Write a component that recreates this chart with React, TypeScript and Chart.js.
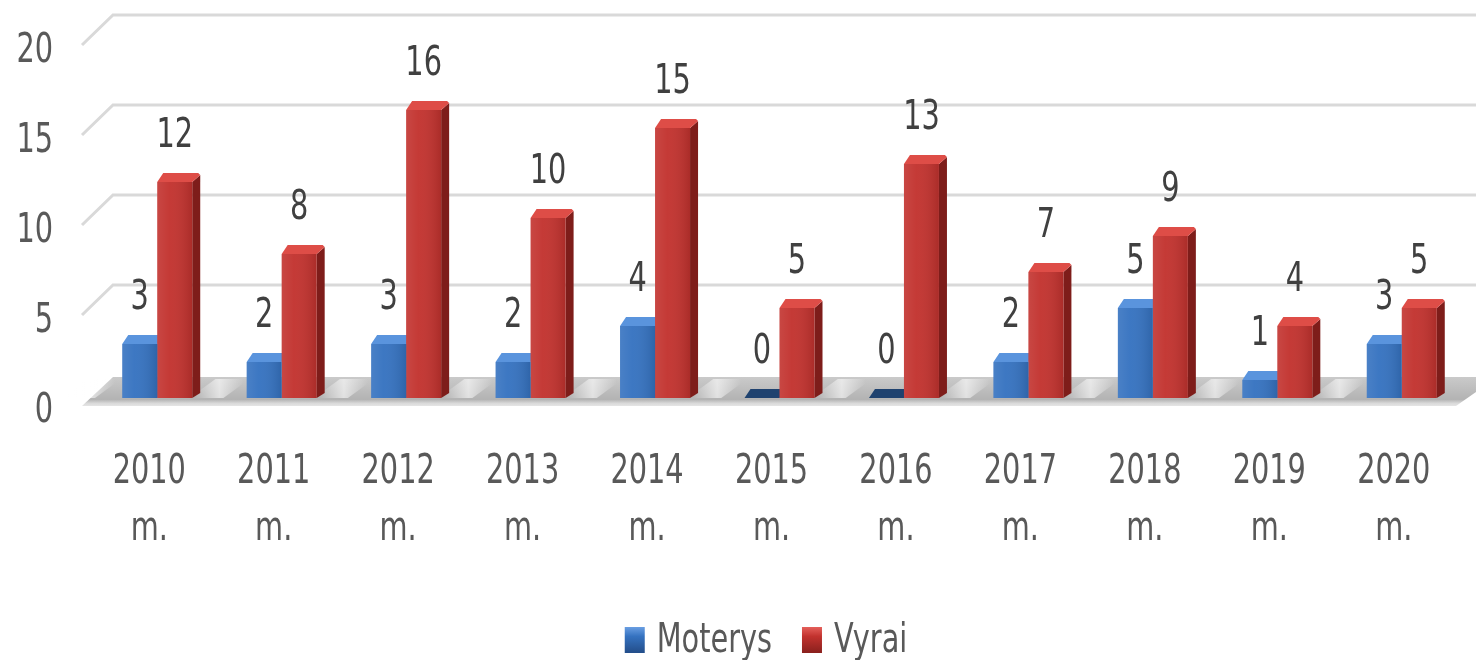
import { useEffect, useRef } from 'react';
import { Chart, registerables } from 'chart.js';
Chart.register(...registerables);

const categories = [
  ['2010', 'm.'], ['2011', 'm.'], ['2012', 'm.'], ['2013', 'm.'], ['2014', 'm.'], ['2015', 'm.'],
  ['2016', 'm.'], ['2017', 'm.'], ['2018', 'm.'], ['2019', 'm.'], ['2020', 'm.'],
];
const moterys = [3, 2, 3, 2, 4, 0, 0, 2, 5, 1, 3];
const vyrai = [12, 8, 16, 10, 15, 5, 13, 7, 9, 4, 5];
const yTicks = [0, 5, 10, 15, 20];
const seriesNames = ['Moterys', 'Vyrai'];

const FONT = '"DejaVu Sans Condensed", "DejaVu Sans", sans-serif';
const TEXT = '#595959';
const LABEL = '#404040';
const DX = 8;
const DY = 9;

const palette = [
  { front: '#3572c0', top: '#5a94dd', side: '#1f4f8f', zero: '#1f426f', light: '#6fa3e6', dark: '#244f8c' },
  { front: '#c2322e', top: '#de4d47', side: '#7e1d1a', zero: '#7e1d1a', light: '#e8645f', dark: '#8c211e' },
];

let SX = 0.8;
function calibrate(ctx: CanvasRenderingContext2D) {
  ctx.save();
  ctx.font = `40px ${FONT}`;
  const w = ctx.measureText('0000').width / 4;
  ctx.restore();
  SX = 18.3 / w;
}

function drawText(ctx: CanvasRenderingContext2D, text: string, x: number, y: number, align: CanvasTextAlign, color: string) {
  ctx.save();
  ctx.translate(x, y);
  ctx.scale(SX, 1);
  ctx.font = `40px ${FONT}`;
  ctx.textAlign = align;
  ctx.textBaseline = 'alphabetic';
  ctx.fillStyle = color;
  ctx.fillText(text, 0, 0);
  ctx.restore();
}

const threeD = {
  id: 'threeD',
  beforeDatasetsDraw(chart: any) {
    const ctx = chart.ctx;
    calibrate(ctx);
    const { left, right } = chart.chartArea;
    const ys = chart.scales.y;
    const xs = chart.scales.x;
    const W = chart.width;
    ctx.save();
    // back gridlines with 3D diagonal
    ctx.strokeStyle = '#d9d9d9';
    ctx.lineWidth = 3;
    for (const v of yTicks) {
      if (v === 0) continue;
      const py = ys.getPixelForValue(v);
      ctx.beginPath();
      ctx.moveTo(left - 13, py + 7);
      ctx.lineTo(left + 18, py - 23);
      ctx.lineTo(W, py - 23);
      ctx.stroke();
    }
    // floor
    const y0 = ys.getPixelForValue(0);
    const fb = y0 - 21;
    const ff = y0 + 8;
    const g = ctx.createLinearGradient(0, fb, 0, ff + 4);
    g.addColorStop(0, '#cacaca');
    g.addColorStop(0.68, '#b3b3b3');
    g.addColorStop(0.8, '#dadada');
    g.addColorStop(1, '#f6f6f6');
    ctx.fillStyle = g;
    ctx.beginPath();
    ctx.moveTo(left - 13, ff);
    ctx.lineTo(left + 18, fb);
    ctx.lineTo(W, fb);
    ctx.lineTo(W, ff - 14);
    ctx.lineTo(right - 8, ff);
    ctx.closePath();
    ctx.fill();
    // soft diagonal stripes between groups
    const n = categories.length;
    for (let i = 0; i < n; i++) {
      const gx = i === 0 ? left - 4 : (xs.getPixelForValue(i - 1) + xs.getPixelForValue(i)) / 2;
      const sg = ctx.createLinearGradient(gx - 24, 0, gx + 24, 0);
      sg.addColorStop(0, 'rgba(255,255,255,0)');
      sg.addColorStop(0.5, 'rgba(255,255,255,0.6)');
      sg.addColorStop(1, 'rgba(255,255,255,0)');
      ctx.fillStyle = sg;
      ctx.beginPath();
      ctx.moveTo(gx - 30, y0);
      ctx.lineTo(gx + 4, y0);
      ctx.lineTo(gx + 30, fb + 2);
      ctx.lineTo(gx - 4, fb + 2);
      ctx.closePath();
      ctx.fill();
    }
    // bar caps and sides
    chart.data.datasets.forEach((ds: any, di: number) => {
      const meta = chart.getDatasetMeta(di);
      const c = palette[di];
      meta.data.forEach((bar: any, j: number) => {
        const { x, y, base, width } = bar.getProps(['x', 'y', 'base', 'width'], true);
        const x0 = x - width / 2;
        const x1 = x + width / 2;
        const v = ds.data[j];
        if (v > 0) {
          ctx.fillStyle = c.side;
          ctx.beginPath();
          ctx.moveTo(x1, y);
          ctx.lineTo(x1 + DX, y - DY + 2);
          ctx.lineTo(x1 + DX, base - DY + 4);
          ctx.lineTo(x1, base);
          ctx.closePath();
          ctx.fill();
        }
        ctx.fillStyle = v > 0 ? c.top : c.zero;
        ctx.beginPath();
        ctx.moveTo(x0, y);
        ctx.lineTo(x0 + DX - 2, y - DY);
        ctx.lineTo(x1 + DX - 2, y - DY);
        ctx.lineTo(x1 + DX, y - DY + 2);
        ctx.lineTo(x1, y);
        ctx.closePath();
        ctx.fill();
      });
    });
    ctx.restore();
  },
  afterDatasetsDraw(chart: any) {
    const ctx = chart.ctx;
    ctx.save();
    chart.data.datasets.forEach((ds: any, di: number) => {
      const meta = chart.getDatasetMeta(di);
      meta.data.forEach((bar: any, j: number) => {
        const { x, y, base, width } = bar.getProps(['x', 'y', 'base', 'width'], true);
        const x0 = x - width / 2;
        if (ds.data[j] > 0) {
          const g = ctx.createLinearGradient(x0, 0, x0 + width, 0);
          g.addColorStop(0, 'rgba(255,255,255,0.10)');
          g.addColorStop(0.35, 'rgba(255,255,255,0.04)');
          g.addColorStop(1, 'rgba(0,0,0,0.12)');
          ctx.fillStyle = g;
          ctx.fillRect(x0, y, width, base - y);
        }
        drawText(ctx, String(ds.data[j]), x, y - 35, 'center', LABEL);
      });
    });
    ctx.restore();
  },
  afterDraw(chart: any) {
    const ctx = chart.ctx;
    const xs = chart.scales.x;
    const ys = chart.scales.y;
    // y tick labels
    yTicks.forEach((v) => {
      drawText(ctx, String(v), 53, ys.getPixelForValue(v) + 9 + 14.5, 'right', TEXT);
    });
    // x category labels (two lines)
    categories.forEach((lines, i) => {
      const cx = xs.getPixelForValue(i) - 8;
      drawText(ctx, lines[0], cx, 483, 'center', TEXT);
      drawText(ctx, lines[1], cx, 540, 'center', TEXT);
    });
    // legend
    ctx.save();
    ctx.font = `40px ${FONT}`;
    const boxW = 20;
    const boxH = 26;
    const gap = 12;
    const spacing = 30;
    const widths = seriesNames.map((s) => ctx.measureText(s).width * SX);
    const total = widths.reduce((a, w) => a + boxW + gap + w, 0) + spacing * (seriesNames.length - 1);
    let x = 766 - total / 2;
    const baseY = 652;
    seriesNames.forEach((s, i) => {
      const c = palette[i];
      const g = ctx.createLinearGradient(0, baseY - boxH, 0, baseY);
      g.addColorStop(0, c.light);
      g.addColorStop(0.4, c.front);
      g.addColorStop(1, c.dark);
      ctx.fillStyle = g;
      ctx.fillRect(x, baseY - boxH + 1, boxW, boxH);
      drawText(ctx, s, x + boxW + gap, baseY, 'left', TEXT);
      x += boxW + gap + widths[i] + spacing;
    });
    ctx.restore();
  },
};

export default function App() {
  const ref = useRef<HTMLCanvasElement | null>(null);
  useEffect(() => {
    document.body.style.margin = '0';
    const chart = new Chart(ref.current as HTMLCanvasElement, {
      type: 'bar',
      data: {
        labels: categories,
        datasets: [
          { label: seriesNames[0], data: moterys, backgroundColor: palette[0].front, categoryPercentage: 0.5625, barPercentage: 1 },
          { label: seriesNames[1], data: vyrai, backgroundColor: palette[1].front, categoryPercentage: 0.5625, barPercentage: 1 },
        ],
      },
      options: {
        animation: false,
        responsive: true,
        maintainAspectRatio: false,
        layout: { padding: { top: 38, right: 12, left: 0, bottom: 0 } },
        plugins: { legend: { display: false }, tooltip: { enabled: false } },
        scales: {
          x: {
            grid: { display: false, drawTicks: false },
            border: { display: false },
            ticks: { display: false, autoSkip: false },
            afterFit: (s: any) => { s.height = 262; s.paddingLeft = 0; s.paddingRight = 0; },
          },
          y: {
            min: 0,
            max: 20,
            grid: { display: false, drawTicks: false },
            border: { display: false },
            ticks: { display: false, stepSize: 5 },
            afterFit: (s: any) => { s.width = 95; s.paddingTop = 0; s.paddingBottom = 0; },
          },
        },
      },
      plugins: [threeD],
    });
    return () => chart.destroy();
  }, []);
  return (
    <div style={{ position: 'fixed', left: 0, top: 0, width: 1476, height: 660 }}>
      <canvas ref={ref} />
    </div>
  );
}
